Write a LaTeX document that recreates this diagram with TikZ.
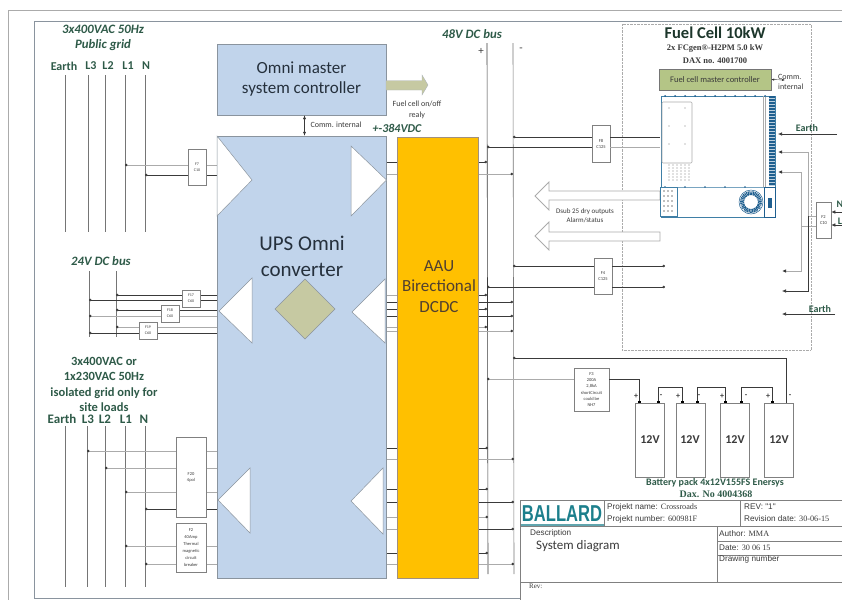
\documentclass[tikz,border=0pt]{standalone}
\usepackage{fontspec}
\setmainfont{Carlito}
\newfontfamily\serifbl{Liberation Serif}
\newfontfamily\arialbl{Liberation Sans}
\usetikzlibrary{calc,arrows.meta,positioning}
\definecolor{bl-box}{HTML}{C1D4EB}
\definecolor{bl-edge}{HTML}{8A949E}
\definecolor{bl-aau}{HTML}{FFC000}
\definecolor{bl-olive}{HTML}{C6C9A2}
\definecolor{bl-ctrl}{HTML}{B4C586}
\definecolor{bl-green}{HTML}{2E5A48}
\definecolor{bl-text}{HTML}{25303C}
\definecolor{bl-gray}{HTML}{ABABAB}
\definecolor{bl-dark}{HTML}{3A3A3A}
\definecolor{bl-teal}{HTML}{1C7F8C}
\definecolor{bl-cell}{HTML}{3F7FA6}
\definecolor{bl-navy}{HTML}{1F5F8F}
\newcommand{\fsz}[2]{\fontsize{#1}{#2}\selectfont}
\tikzset{
  frameline/.style={draw=bl-edge, line width=0.7pt},
  mainbox/.style={draw=bl-edge, fill=bl-box, inner sep=0pt, text=bl-text},
  fusebox/.style={draw=gray, fill=white, inner sep=0pt, align=center, text=bl-dark, line width=0.6pt},
  cell/.style={draw=gray, fill=white, line width=0.6pt, inner sep=0pt},
  tribox/.style={draw=bl-edge, fill=white, line width=0.5pt},
  wblack/.style={draw=bl-dark, line width=0.6pt},
  wgray/.style={draw=bl-gray, line width=0.8pt},
  gridlabel/.style={text=bl-green, font=\fsz{12.8}{13}\bfseries\itshape},
  buslabel/.style={text=bl-green, font=\fsz{12}{12}\bfseries},
  smalltext/.style={text=bl-dark, font=\fsz{8}{11}, align=center},
  titletext/.style={text=bl-dark, anchor=west, inner sep=0pt, font=\arialbl\fsz{8.2}{10}},
  dotstart/.style={{Circle[length=2.5pt,color=bl-dark]}-},
  dotend/.style={-{Circle[length=2.5pt,color=bl-dark]}},
  tipleft/.style={-{Latex[length=4pt,width=3.5pt,color=bl-dark]}},
  termtip/.style={{Square[length=2.5pt,color=black]}-{Square[length=2.5pt,color=black]}}
}

\begin{document}
\begin{tikzpicture}[x=1pt,y=-1pt]
    \useasboundingbox (0,0) rectangle (842,600);
    % frames
    \draw[bl-gray, line width=1pt] (842,10) -- (8,10) -- (8,600);
    \draw[frameline] (842,21) -- (34.5,21) -- (34.5,598) -- (520,598);
    \draw[densely dotted, draw=bl-gray] (622,24) rectangle (811,350);

    % public grid
    \node[gridlabel] (gridtop) at (103,29) {3x400VAC 50Hz};
    \node[gridlabel] (gridpub) at (103,45) {Public grid};
    \foreach \lname/\lx/\ltext/\bx in {ea/64/Earth/65,lc/91/L3/88.5,lb/108/L2/105.5,la/128/L1/125.5,ln/146/N/145.5} {
        \node[buslabel] (top\lname) at (\lx,66) {\ltext};
        \coordinate (a\lname) at (\bx,75);
        \coordinate (z\lname) at (\bx,232);
        \draw[wblack, bl-dark!70] (a\lname) -- (z\lname);
    }
    % 24V bus
    \node[gridlabel] (dclabel) at (101,261) {24V DC bus};
    \coordinate (dca) at (89,271);  \coordinate (dcb) at (89,337);
    \coordinate (dcc) at (116,271); \coordinate (dcd) at (116,337);
    \draw[wblack, bl-dark!70] (dca) -- (dcb);
    \draw[wblack, bl-dark!70] (dcc) -- (dcd);

    % site grid
    \node[text=bl-green, font=\fsz{12.5}{15.2}\bfseries, align=center, inner sep=0pt] (sitegrid) at (104,384.5)
        {3x400VAC or\\1x230VAC 50Hz\\isolated grid only for\\site loads};
    \foreach \lname/\lx/\ltext/\bx in {ea/62/Earth/65,lc/88/L3/87,lb/105/L2/105,la/126/L1/125,ln/144/N/145} {
        \node[text=bl-green, font=\fsz{13}{13}\bfseries, inner sep=0pt] (low\lname) at (\lx,419) {\ltext};
        \coordinate (c\lname) at (\bx,426);
        \coordinate (d\lname) at (\bx,587);
        \draw[wblack, bl-dark!70] (c\lname) -- (d\lname);
    }

    % 48V bus
    \node[gridlabel] (buslabel) at (472,34) {48V DC bus};
    \node[font=\fsz{11}{11}, text=bl-dark] (plus) at (481,51) {+};
    \node[font=\fsz{11}{11}, text=bl-dark] (minus) at (521,50) {-};
    \coordinate (pa) at (487,43); \coordinate (pz) at (488,574);
    \coordinate (ma) at (513,43); \coordinate (mz) at (514,574);
    \draw[wblack] (pa) -- (pz);
    \draw[wblack, bl-dark!70] (ma) -- (mz);

    % wires, left side: x from, x to, y, style
    \foreach \wid/\xa/\xb/\wy/\ws in {
        a/125/217/165/wgray, b/145/217/175/wblack,
        c/116/217/295/wblack, d/89/217/300/wblack, e/116/217/310/wblack,
        f/89/217/316/wgray, g/116/217/327/wgray, h/89/217/333/wblack,
        i/87/217/451/wgray, j/105/217/468/wgray, k/125/217/492/wgray,
        l/145/217/509/wblack, m/125/217/546/wgray, n/145/217/564/wgray} {
        \coordinate (w\wid) at (\xa,\wy);
        \coordinate (v\wid) at (\xb,\wy);
        \draw[\ws, dotstart] (w\wid) -- (v\wid);
    }
    % wires, between converter and DCDC and on to the bus
    \foreach \wid/\xb/\wy/\wl/\wr in {
        a/487/162/wblack/wblack, b/513/174/wgray/wgray,
        c/487/295/wgray/wblack, d/513/302/wblack/wblack, e/487/309/wblack/wblack,
        f/513/316/wblack/wblack, g/487/327/wgray/wgray, h/513/331/wgray/wgray,
        i/488/448/wblack/wblack, j/514/459/wgray/wgray, k/488/489/wblack/wblack,
        l/514/502/wblack/wblack, m/488/517/wgray/wgray, n/514/529/wgray/wblack,
        o/488/553/wblack/wblack, p/514/564/wgray/wgray} {
        \coordinate (s\wid) at (386,\wy);
        \coordinate (t\wid) at (397,\wy);
        \coordinate (q\wid) at (478,\wy);
        \coordinate (r\wid) at (\xb,\wy);
        \draw[\wl] (s\wid) -- (t\wid);
        \draw[\wr, dotend] (q\wid) -- (r\wid);
    }

    % fuses on 48V bus
    \node[fusebox, minimum width=18pt, minimum height=37pt, font=\fsz{4.5}{6}] (ffc) at (601,143.5) {F8\\C125};
    \node[fusebox, minimum width=18pt, minimum height=36pt, font=\fsz{4.5}{6}] (ffd) at (603,276) {F4\\C125};
    \coordinate (fca) at (513,137); \coordinate (fcb) at (660,137);
    \coordinate (fcc) at (487,147); \coordinate (fcd) at (660,147);
    \coordinate (fda) at (513,266); \coordinate (fdb) at (665,266);
    \coordinate (fdc) at (487,287); \coordinate (fdd) at (665,287);
    \draw[wblack, dotstart] (fca) -- (ffc.west |- fca);
    \draw[wblack] (ffc.east |- fca) -- (fcb);
    \draw[wblack, dotstart] (fcc) -- (ffc.west |- fcc);
    \draw[wgray] (ffc.east |- fcc) -- (fcd);
    \draw[wblack, dotstart] (fda) -- (ffd.west |- fda);
    \draw[wblack, dotend] (ffd.east |- fda) -- (fdb);
    \draw[wblack, dotstart] (fdc) -- (ffd.west |- fdc);
    \draw[wblack, dotend] (ffd.east |- fdc) -- (fdd);

    % fuses on the left
    \node[fusebox, minimum width=18pt, minimum height=36pt, font=\fsz{4}{6}] (fseven) at (197,167) {F7\\C10};
    \node[fusebox, minimum width=18pt, minimum height=17pt, font=\fsz{4}{6}] (fseventeen) at (191,298.5) {F17\\C60};
    \node[fusebox, minimum width=18pt, minimum height=17pt, font=\fsz{4}{6}] (feighteen) at (170,313.5) {F18\\C60};
    \node[fusebox, minimum width=18pt, minimum height=17pt, font=\fsz{4}{6}] (fnineteen) at (148,330.5) {F19\\C60};
    \node[fusebox, minimum width=30pt, minimum height=80pt, font=\fsz{4.5}{6}] (ftwenty) at (191,477) {F20\\4pol};
    \node[fusebox, minimum width=30pt, minimum height=49pt, font=\fsz{4.5}{7}] (ftwo) at (191,547.5)
        {F2\\40Amp\\Thermal\\magnetic\\circuit\\breaker};

    % converter and controllers
    \node[mainbox, minimum width=169pt, minimum height=71pt, align=center, font=\fsz{17}{20}] (omni) at (301.5,79.5)
        {Omni master\\system controller};
    \node[mainbox, minimum width=169pt, minimum height=442pt] (ups) at (301.5,357) {};
    \node[draw=bl-edge!80!orange, fill=bl-aau, minimum width=81pt, minimum height=441pt, inner sep=0pt] (aau) at (437.5,357.5) {};
    \node[text=bl-text, font=\fsz{21}{26}, align=center] (upstext) at (302,256) {UPS Omni\\converter};
    \node[text=bl-text!80!orange, font=\fsz{17}{20.5}, align=center] (aautext) at (439,286.5) {AAU\\Birectional\\DCDC};
    \fill[bl-olive, draw=bl-edge] (275,309) -- (305,279) -- (335,309) -- (305,339) -- cycle;

    % triangles
    \draw[tribox] (217,136) -- (252,180) -- (217,216) -- cycle;
    \draw[tribox] (351,146) -- (386.5,180) -- (351,216) -- cycle;
    \draw[tribox] (252,278) -- (219,311) -- (252,343) -- cycle;
    \draw[tribox] (385,279) -- (352,312) -- (385,343) -- cycle;
    \draw[tribox] (250,468) -- (218,500) -- (250,533) -- cycle;
    \draw[tribox] (383,468) -- (351,501) -- (383,534) -- cycle;

    % controller link and relay arrow
    \draw[{Latex[length=4pt]}-{Latex[length=4pt]}, bl-dark] (omni.south -| 304.5,0) -- (ups.north -| 304.5,0);
    \node[smalltext] (commone) at (336,125) {Comm. internal};
    \node[text=bl-green, font=\fsz{12}{12}\bfseries\itshape] (hvlabel) at (397,128) {+-384VDC};
    \draw[fill=bl-olive, draw=bl-edge!70] (386,80.5) -- (422,80.5) -- (422,75) -- (428,85) -- (422,95) -- (422,90) -- (386,90) -- cycle;
    \node[smalltext] (relaytext) at (417,109.5) {Fuel cell on/off\\realy};

    % dsub arrows
    \draw[draw=bl-gray, fill=white, line width=0.8pt] (660,191) -- (549,191) -- (549,182) -- (535,196) -- (549,210) -- (549,200) -- (660,200) -- cycle;
    \draw[draw=bl-gray, fill=white, line width=0.8pt] (660,232) -- (549,232) -- (549,222) -- (535,236) -- (549,250) -- (549,241) -- (660,241) -- cycle;
    \node[smalltext, font=\fsz{7}{9}] (dsubtext) at (585,216) {Dsub 25 dry outputs\\Alarm/status};

    % fuel cell
    \node[font=\fsz{16.5}{16.5}\bfseries, text=bl-green!60!black] (fctitle) at (715,33) {Fuel Cell 10kW};
    \node[font=\serifbl\fsz{8.5}{13}\bfseries, text=bl-dark, align=center] (fcsub) at (715,54.5) {2x FCgen®-H2PM 5.0 kW\\DAX no. 4001700};
    \node[draw=bl-dark!70, fill=bl-ctrl, minimum width=112pt, minimum height=21pt, inner sep=0pt, font=\fsz{8.5}{10}, text=bl-dark] (fcctrl) at (715,79.5) {Fuel cell master controller};
    \node[smalltext, font=\fsz{8}{10}, align=left, anchor=west, inner sep=0pt] (commtwo) at (778,82) {Comm.\\internal};
    \coordinate (commend) at (785,80);
    \draw[{Latex[length=3pt]}-{Latex[length=3pt]}, bl-dark] (fcctrl.east) -- (commend);
    \draw[draw=bl-cell, line width=0.8pt, fill=white] (661,96) rectangle (775,217);
    \draw[draw=bl-cell!70, line width=0.6pt] (661,187) -- (775,187);
    \draw[draw=bl-gray, line width=0.6pt] (763,96) -- (763,187) (765,96) -- (765,187);
    \draw[draw=bl-gray, line width=0.6pt, rounded corners=1pt] (662,102) -- (692,102) -- (692,163) -- (662,163) -- cycle;
    \fill[bl-navy] (769,96) rectangle (775,186);
    \foreach \sy in {98,101,...,185} \draw[white!70!bl-navy, line width=0.3pt] (769,\sy) -- (775,\sy);
    \foreach \sx in {665,675,...,765} \fill[bl-navy] (\sx,96) circle (1pt);
    \foreach \sx in {665,685,...,755} \fill[bl-navy] (\sx,187) circle (0.9pt);
    \foreach \sx in {669,673,...,689} \foreach \sy in {165,168,...,181} \fill[gray] (\sx,\sy) circle (0.6pt);
    \foreach \sx/\sy in {669/108,685/108,669/126,685/126,669/144,685/144} \fill[gray] (\sx,\sy) circle (0.7pt);
    \draw[draw=bl-cell, fill=white, line width=0.7pt] (660,187) rectangle (677,216);
    \foreach \sx in {664,668,672} \foreach \sy in {191,196,...,212} \fill[gray] (\sx,\sy) circle (0.8pt);
    \draw[bl-navy, line width=0.8pt, fill=white] (764,187) rectangle (775,217);
    \fill[bl-navy] (768,198) rectangle (772,208);
    \draw[bl-navy, line width=4pt, dash pattern=on 1pt off 0.6pt] (751,202) circle (9pt);
    \draw[bl-navy, line width=0.5pt] (751,202) circle (12pt);

    % right side feeds
    \node[fusebox, minimum width=15pt, minimum height=36pt, font=\fsz{4.5}{6}] (fone) at (823.5,220) {F2\\C10};
    \node[buslabel, font=\fsz{10}{10}\bfseries] (topearth) at (807,128) {Earth};
    \node[buslabel, font=\fsz{10}{10}\bfseries] (lowearth) at (820,309) {Earth};
    \node[buslabel, font=\fsz{10}{10}\bfseries] (nlabel) at (840,204) {N};
    \node[buslabel, font=\fsz{10}{10}\bfseries] (llabel) at (840,221) {L};
    \coordinate (eaend) at (837,134); \coordinate (eatip) at (778,134);
    \coordinate (ebend) at (835,314); \coordinate (ebtip) at (782,314);
    \coordinate (ntip) at (778,152); \coordinate (nfrom) at (808,216);
    \coordinate (ltip) at (778,172); \coordinate (lfrom) at (801,226);
    \coordinate (ndown) at (782,291); \coordinate (ldown) at (782,271);
    \coordinate (nin) at (842,212); \coordinate (lin) at (842,225);
    \draw[wblack, tipleft] (eaend) -- (eatip);
    \draw[wblack, tipleft] (ebend) -- (ebtip);
    \draw[wgray, tipleft] (fone.west |- nfrom) -- (nfrom) -- (ntip -| nfrom) -- (ntip);
    \draw[wgray, tipleft] (fone.west |- lfrom) -- (lfrom) -- (ltip -| lfrom) -- (ltip);
    \draw[wgray, tipleft] (lfrom) -- (ldown -| lfrom) -- (ldown);
    \draw[wblack, tipleft] (nfrom) -- (ndown -| nfrom) -- (ndown);
    \draw[wblack, tipleft] (nin) -- (fone.east |- nin);
    \draw[wblack, tipleft] (lin) -- (fone.east |- lin);

    % battery pack
    \foreach \bid/\bl/\bw/\bc in {a/635/29/650,b/676/29/690,c/720/29/735,d/764/29/779} {
        \node[cell, anchor=north west, minimum width=\bw pt, minimum height=74pt] (bat\bid) at (\bl,403) {};
        \node[font=\fsz{12}{12}\bfseries, text=bl-dark] (volt\bid) at (\bc,440) {12V};
    }
    \foreach \pid/\px/\ptext in {pa/636/+,ma/661/-,pb/678/+,mb/699/-,pc/722/+,mc/746/-,pd/768/+,md/790/-} {
        \node[font=\fsz{8}{8}\bfseries, text=bl-dark] (sign\pid) at (\px,396) {\ptext};
    }
    \node[fusebox, minimum width=35pt, minimum height=43pt, font=\fsz{4.5}{6.2}] (fthree) at (591.5,389.5)
        {F3\\200A\\2,8kA\\shortCircuit\\could be\\NH7};
    \coordinate (fta) at (487,379); \coordinate (ftb) at (639,403);
    \coordinate (tlm) at (513,358); \coordinate (tle) at (786,403);
    \draw[wgray, dotstart] (fta) -- (fthree.west |- fta);
    \draw[wblack, -{Square[length=2.5pt,color=black]}] (fthree.east |- fta) -- (ftb |- fta) -- (ftb);
    \draw[wblack, dotstart] (tlm) -- (tle |- tlm) -- (tle);
    \foreach \ja/\jb in {658/682,697/725,741/772} {
        \coordinate (ju\ja) at (\ja,403); \coordinate (jv\ja) at (\jb,403);
        \draw[wblack, termtip] (ju\ja) -- ++(0,-16) -| (jv\ja);
    }
    \node[text=bl-green, font=\fsz{10}{10}\bfseries] (packtext) at (715,483) {Battery pack 4x12V155FS Enersys};
    \node[text=bl-green, font=\serifbl\fsz{10}{10}\bfseries] (daxtext) at (716,494) {Dax. No 4004368};

    % title block
    \draw[draw=gray, line width=0.7pt] (842,500) -- (520,500) -- (520,600);
    \draw[draw=gray, line width=0.7pt] (520,526) -- (842,526) (604,500) -- (604,526) (740,500) -- (740,526);
    \draw[draw=gray, line width=0.7pt] (717,526) -- (717,582) (520,582) -- (842,582) (717,541) -- (842,541) (717,555) -- (842,555);
    \fill[bl-teal!70] (521,524) rectangle (604,525.5);
    \node[text=bl-teal, font=\arialbl\fsz{23}{23}\bfseries, xscale=0.72, inner sep=0pt] (logo) at (562,513.5) {BALLARD};
    \node[titletext] (pname) at (607,507) {Projekt name: {\serifbl Crossroads}};
    \node[titletext] (pnum) at (607,519) {Projekt number: {\serifbl 600981F}};
    \node[titletext] (rev) at (744,507) {REV: "1"};
    \node[titletext] (revdate) at (744,519) {Revision date: {\serifbl 30-06-15}};
    \node[titletext] (desc) at (530,533) {Description};
    \node[titletext, font=\fsz{13}{13}] (sysdiag) at (536,546) {System diagram};
    \node[titletext] (author) at (719,534) {Author: {\serifbl MMA}};
    \node[titletext] (ddate) at (719,548) {Date: {\serifbl 30 06 15}};
    \node[titletext] (dnum) at (719,559) {Drawing number};
    \node[titletext, font=\serifbl\fsz{7}{8}] (revlow) at (529,586) {Rev:};
\end{tikzpicture}
\end{document}
